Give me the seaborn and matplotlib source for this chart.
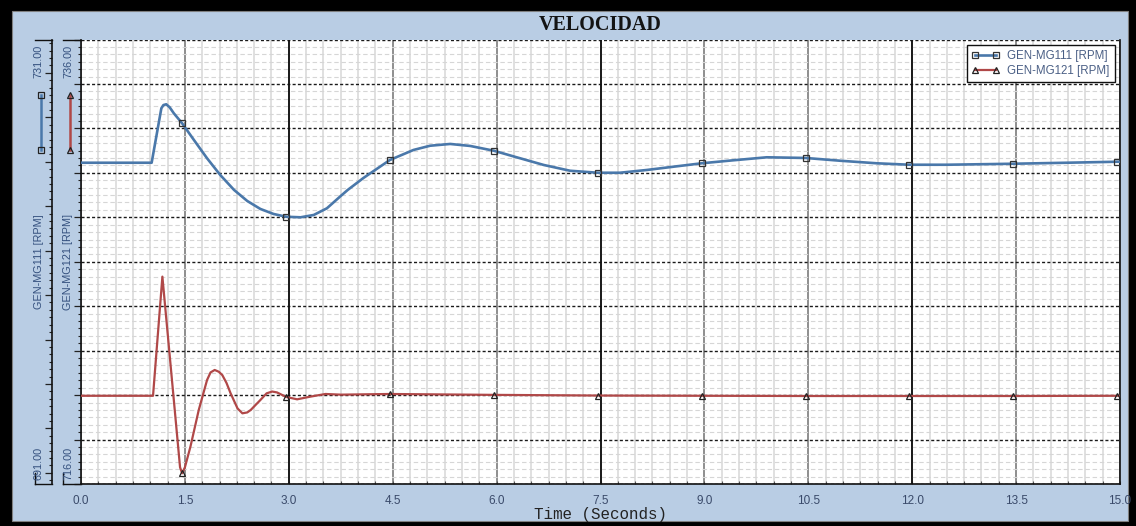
import numpy as np
import pandas as pd
import matplotlib
matplotlib.use("Agg")
import matplotlib.pyplot as plt
import seaborn as sns
from matplotlib.ticker import MultipleLocator, NullFormatter
from matplotlib.lines import Line2D
from matplotlib.patches import Rectangle

# ---------------- data ----------------
t_mg111 = [0.0, 1.02, 1.16, 1.19, 1.23, 1.28, 1.34, 1.46, 1.63, 1.82, 2.01, 2.21,
           2.40, 2.59, 2.78, 2.96, 3.17, 3.36, 3.55, 3.75, 3.85, 4.08, 4.46, 4.80,
           5.04, 5.33, 5.62, 5.96, 6.29, 6.68, 7.06, 7.46, 7.78, 8.17, 8.55, 8.96,
           9.40, 9.90, 10.46, 10.96, 11.49, 11.96, 12.50, 13.46, 14.23, 14.96, 15.0]
v_mg111 = [719.91, 719.91, 724.81, 725.10, 725.17, 724.90, 724.36, 723.46, 721.96,
           720.31, 718.81, 717.46, 716.47, 715.75, 715.30, 715.05, 715.00, 715.21,
           715.81, 716.92, 717.46, 718.55, 720.16, 721.06, 721.44, 721.60, 721.42,
           720.99, 720.40, 719.71, 719.19, 719.01, 719.01, 719.26, 719.55, 719.86,
           720.12, 720.40, 720.34, 720.09, 719.86, 719.73, 719.73, 719.82, 719.91,
           720.00, 720.00]

t_mg121 = [0.0, 1.04, 1.175, 1.43, 1.46, 1.50, 1.58, 1.70, 1.82, 1.87, 1.93, 1.99,
           2.04, 2.10, 2.16, 2.26, 2.33, 2.40, 2.45, 2.59, 2.68, 2.76, 2.83, 2.96,
           3.12, 3.31, 3.53, 3.75, 4.46, 5.96, 7.46, 8.96, 10.46, 11.96, 13.46,
           14.96, 15.0]
v_mg121 = [719.97, 719.97, 725.33, 716.75, 716.48, 716.75, 717.68, 719.33, 720.68,
           721.02, 721.13, 721.05, 720.90, 720.55, 720.08, 719.40, 719.18, 719.22,
           719.33, 719.78, 720.08, 720.16, 720.12, 719.92, 719.81, 719.93, 720.05,
           720.02, 720.05, 720.01, 719.98, 719.97, 719.96, 719.96, 719.96, 719.97,
           719.97]

marker_times = [1.46, 2.96, 4.46, 5.96, 7.46, 8.96, 10.46, 11.96, 13.46, 14.96]

x_ticks = [0.0, 1.5, 3.0, 4.5, 6.0, 7.5, 9.0, 10.5, 12.0, 13.5, 15.0]
x_tick_labels = ["0.0", "1.5", "3.0", "4.5", "6.0", "7.5", "9.0", "10.5", "12.0", "13.5", "15.0"]
lim_mg111 = (691.0, 731.0)
lim_mg121 = (716.0, 736.0)
label_mg111 = "GEN-MG111 [RPM]"
label_mg121 = "GEN-MG121 [RPM]"
title = "VELOCIDAD"
xlabel = "Time (Seconds)"

df111 = pd.DataFrame({"t": t_mg111, "v": v_mg111})
df121 = pd.DataFrame({"t": t_mg121, "v": v_mg121})
mask111 = list(np.isin(np.round(df111["t"], 3), marker_times))
mask121 = list(np.isin(np.round(df121["t"], 3), marker_times))

# ---------------- style ----------------
W, H = 1136, 526
BLUE = "#4a78aa"
RED = "#b04848"
PANEL = "#b9cde4"
TXT = "#34507e"

def fx(px):
    return px / W

def fy(py):
    return 1 - py / H

fig = plt.figure(figsize=(W / 100, H / 100), dpi=100, facecolor="black")
fig.patches.append(Rectangle((fx(12), fy(521)), (1128 - 12) / W, (521 - 11) / H,
                             transform=fig.transFigure, facecolor=PANEL,
                             edgecolor="#808080", lw=0.8, zorder=-10))

L, R, T, B = 81, 1120, 39.5, 484
ax = fig.add_axes([fx(L), fy(B), (R - L) / W, (B - T) / H])
ax.set_facecolor("white")

# red series axis (main)
ax.set_xlim(0, 15)
ax.set_ylim(*lim_mg121)
ax.xaxis.set_major_locator(MultipleLocator(1.5))
ax.xaxis.set_minor_locator(MultipleLocator(0.25))
ax.yaxis.set_major_locator(MultipleLocator(2))
ax.yaxis.set_minor_locator(MultipleLocator(2 / 6))
ax.set_xticks(x_ticks)
ax.set_xticklabels(x_tick_labels)
ax.yaxis.set_major_formatter(NullFormatter())
ax.set_axisbelow(True)

ax.grid(which="minor", axis="x", color="#dadada", lw=1.2, ls="-")
ax.grid(which="major", axis="x", color="#8e8e8e", lw=1.4, ls="-")
ax.grid(which="minor", axis="y", color="#d6d6d6", lw=0.8, ls=(0, (4, 2.5)))
ax.grid(which="major", axis="y", color="#1a1a1a", lw=1.0, ls=(0, (2.2, 1.6)))
for xv in (3.0, 7.5, 12.0):
    ax.axvline(xv, color="#111111", lw=1.3, zorder=0.6)

ax.tick_params(axis="x", which="both", direction="in", length=2.5, width=0.8,
               colors="#555555", labelcolor="#3a4a6a", labelsize=8.5, pad=8)
ax.tick_params(axis="y", which="major", direction="out", length=5, width=0.9, colors="#222")
ax.tick_params(axis="y", which="minor", direction="out", length=2.5, width=0.8, colors="#222")
for lab in ax.get_xticklabels():
    lab.set_fontfamily("Liberation Sans")
ax.spines["top"].set_visible(False)
for s in ("left", "bottom", "right"):
    ax.spines[s].set_color("#111")
    ax.spines[s].set_linewidth(1.2)

sns.lineplot(data=df121, x="t", y="v", ax=ax, color=RED, lw=1.6, sort=False,
             marker="^", markevery=mask121, markersize=5, markerfacecolor="none",
             markeredgecolor="#222222", markeredgewidth=0.9, label=label_mg121,
             legend=False, zorder=3)
ax.set_xlabel("")
ax.set_ylabel("")

# blue series axis (twin, spine moved left)
ax2 = ax.twinx()
ax2.set_ylim(*lim_mg111)
ax2.yaxis.set_ticks_position("left")
ax2.spines["left"].set_position(("outward", (L - 52) * 0.72))
ax2.spines["left"].set_color("#111")
ax2.spines["left"].set_linewidth(1.2)
for s in ("right", "top", "bottom"):
    ax2.spines[s].set_visible(False)
ax2.yaxis.set_major_locator(MultipleLocator(4))
ax2.yaxis.set_minor_locator(MultipleLocator(4 / 6))
ax2.yaxis.set_major_formatter(NullFormatter())
ax2.tick_params(axis="y", which="major", direction="out", length=5, width=0.9, colors="#222")
ax2.tick_params(axis="y", which="minor", direction="out", length=2.5, width=0.8, colors="#222")

sns.lineplot(data=df111, x="t", y="v", ax=ax2, color=BLUE, lw=1.9, sort=False,
             marker="s", markevery=mask111, markersize=5, markerfacecolor="none",
             markeredgecolor="#333333", markeredgewidth=0.9, label=label_mg111,
             legend=False, zorder=4)
ax2.set_xlabel("")
ax2.set_ylabel("")

# legend (proxy handles styled like the series)
lh1 = Line2D([], [], color=BLUE, lw=1.9, marker="s", ms=5, mfc="none", mec="#333", mew=0.9)
lh2 = Line2D([], [], color=RED, lw=1.6, marker="^", ms=5, mfc="none", mec="#222", mew=0.9)
leg = ax2.legend([lh1, lh2], [label_mg111, label_mg121], loc="upper right",
                 bbox_to_anchor=(fx(1115), fy(45)), bbox_transform=fig.transFigure,
                 borderaxespad=0, fancybox=False, framealpha=1, edgecolor="#111",
                 prop={"family": "Liberation Sans", "size": 8.3}, handlelength=2.4,
                 numpoints=2, labelspacing=0.22, borderpad=0.45, handletextpad=0.7)
leg.get_frame().set_linewidth(1.0)
for txt in leg.get_texts():
    txt.set_color("#4a5f85")

# title and x label
fig.text(fx(600), fy(25), title, ha="center", va="center", fontsize=14.5,
         fontweight="bold", family="Liberation Serif", color="#141414")
fig.text(fx(600), fy(514), xlabel, ha="center", va="center", fontsize=11.4,
         family="Liberation Mono", color="#222222")

# y-axis annotations
fs = 7.8
for xc, top, bot, name in ((39, "731.00", "691.00", label_mg111),
                           (68, "736.00", "716.00", label_mg121)):
    fig.text(fx(xc), fy(45), top, rotation=90, ha="center", va="top",
             fontsize=fs, family="Liberation Sans", color=TXT)
    fig.text(fx(xc), fy(480), bot, rotation=90, ha="center", va="bottom",
             fontsize=fs, family="Liberation Sans", color=TXT)
    fig.text(fx(xc), fy(262), name, rotation=90, ha="center", va="center",
             fontsize=fs, family="Liberation Sans", color=TXT)

# indicator lines with markers
fig.add_artist(Line2D([fx(41), fx(41)], [fy(95), fy(150)], color=BLUE, lw=1.8,
                      marker="s", ms=4.5, mfc="none", mec="#222", mew=0.9))
fig.add_artist(Line2D([fx(70), fx(70)], [fy(95), fy(150)], color=RED, lw=1.8,
                      marker="^", ms=4.5, mfc="none", mec="#222", mew=0.9))

# axis end caps
for xs, xe in ((35, 52), (63, 81)):
    fig.add_artist(Line2D([fx(xs), fx(xe)], [fy(T), fy(T)], color="#111", lw=1.0))
    fig.add_artist(Line2D([fx(xs), fx(xe)], [fy(B), fy(B)], color="#111", lw=1.0))
    fig.add_artist(Line2D([fx(xs), fx(xs)], [fy(B - 11), fy(B)], color="#111", lw=1.0))

fig.savefig("out.png", dpi=100, facecolor=fig.get_facecolor())
